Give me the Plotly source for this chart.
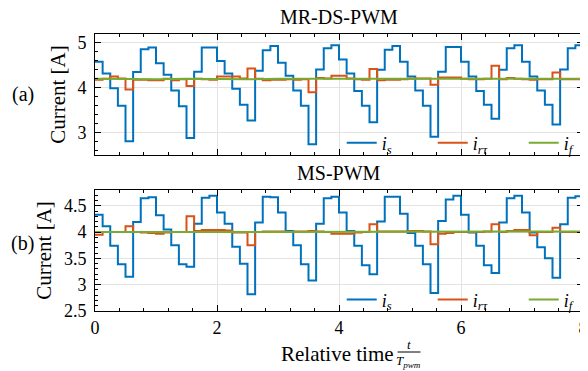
import plotly.graph_objects as go

# time grid: 8 samples per PWM period, 8 periods
t_steps = [k * 0.125 for k in range(65)]
t_filter = [k * 0.5 for k in range(17)]

# ---------- (a) MR-DS-PWM ----------
is_a = [4.58, 4.32, 3.99, 3.60, 2.81, 4.35, 4.86, 4.90,
        4.55, 4.29, 3.94, 3.59, 2.88, 4.36, 4.90, 4.90,
        4.60, 4.32, 3.98, 3.62, 3.27, 4.38, 4.84, 4.93,
        4.56, 4.27, 3.94, 3.60, 2.74, 4.41, 4.88, 4.95,
        4.63, 4.32, 3.93, 3.60, 3.23, 4.40, 4.85, 4.93,
        4.58, 4.25, 3.94, 3.60, 2.91, 4.36, 4.91, 4.91,
        4.58, 4.25, 3.93, 3.62, 3.31, 4.40, 4.88, 4.95,
        4.58, 4.25, 3.94, 3.62, 3.18, 4.41, 4.88, 4.95, 4.95]
irt_a = [4.18, 4.20, 4.25, 4.21, 3.96, 4.18, 4.18, 4.17,
         4.17, 4.20, 4.17, 4.19, 4.04, 4.20, 4.19, 4.18,
         4.25, 4.25, 4.25, 4.21, 4.43, 4.20, 4.17, 4.18,
         4.18, 4.19, 4.18, 4.19, 3.90, 4.22, 4.21, 4.27,
         4.27, 4.21, 4.19, 4.18, 4.42, 4.17, 4.18, 4.18,
         4.19, 4.20, 4.21, 4.21, 4.07, 4.23, 4.23, 4.23,
         4.20, 4.19, 4.19, 4.20, 4.49, 4.19, 4.22, 4.20,
         4.19, 4.18, 4.19, 4.19, 4.34, 4.19, 4.19, 4.19, 4.19]
if_a = [4.20, 4.19, 4.19, 4.20, 4.19, 4.19, 4.20, 4.20, 4.19,
        4.20, 4.20, 4.19, 4.20, 4.20, 4.19, 4.20, 4.20]

# ---------- (b) MS-PWM ----------
is_b = [4.33, 4.11, 3.74, 3.39, 3.15, 4.19, 4.64, 4.66,
        4.32, 4.05, 3.75, 3.39, 3.34, 4.16, 4.65, 4.69,
        4.37, 4.16, 3.72, 3.40, 2.82, 4.18, 4.67, 4.66,
        4.37, 4.02, 3.75, 3.39, 3.08, 4.16, 4.64, 4.67,
        4.37, 4.02, 3.74, 3.37, 3.20, 4.20, 4.67, 4.67,
        4.35, 3.98, 3.74, 3.39, 2.84, 4.21, 4.62, 4.69,
        4.33, 3.99, 3.74, 3.37, 3.22, 4.18, 4.64, 4.69,
        4.37, 3.99, 3.71, 3.50, 3.13, 4.15, 4.65, 4.68, 4.68]
irt_b = [3.95, 4.00, 4.00, 4.00, 4.11, 4.00, 3.99, 3.98,
         3.97, 3.99, 4.00, 4.00, 4.30, 4.02, 4.04, 4.04,
         4.04, 4.03, 3.99, 3.99, 3.75, 4.00, 4.01, 4.01,
         4.01, 4.00, 4.01, 4.01, 4.02, 4.01, 4.00, 3.97,
         3.97, 3.97, 3.99, 4.00, 4.15, 4.01, 4.01, 4.01,
         4.01, 4.02, 4.02, 4.01, 3.77, 3.97, 3.98, 4.00,
         4.00, 4.00, 4.00, 4.01, 4.15, 4.00, 4.02, 4.04,
         4.04, 3.94, 4.00, 4.00, 4.08, 4.00, 4.00, 4.00, 4.00]
if_b = [4.00, 4.00, 4.00, 4.01, 4.00, 4.00, 4.01, 4.01, 4.00,
        4.01, 4.00, 4.00, 4.01, 4.01, 4.00, 4.00, 4.01]

x_ticks = [0, 2, 4, 6, 8]
y_ticks_a = [3, 4, 5]
y_ticks_b = [2.5, 3, 3.5, 4, 4.5]

names = ["<i>i</i><sub><i>s</i></sub>",
         "<i>i</i><sub><i>r\u03c4</i></sub>",
         "<i>i</i><sub><i>f</i></sub>"]
colors = ["#0072BD", "#D95319", "#77AC30"]
FONT = "Liberation Serif"

fig = go.Figure()
for (xa, ya, leg, data) in [("x", "y", "legend", (is_a, irt_a, if_a)),
                            ("x2", "y2", "legend2", (is_b, irt_b, if_b))]:
    fig.add_trace(go.Scatter(x=t_steps, y=data[0], mode="lines", line_shape="hv",
                             line=dict(color=colors[0], width=2), name=names[0],
                             xaxis=xa, yaxis=ya, legend=leg))
    fig.add_trace(go.Scatter(x=t_steps, y=data[1], mode="lines", line_shape="hv",
                             line=dict(color=colors[1], width=2), name=names[1],
                             xaxis=xa, yaxis=ya, legend=leg))
    fig.add_trace(go.Scatter(x=t_filter, y=data[2], mode="lines",
                             line=dict(color=colors[2], width=2), name=names[2],
                             xaxis=xa, yaxis=ya, legend=leg))

axis_common = dict(showline=True, linecolor="black", linewidth=1, mirror="allticks",
                   ticks="inside", ticklen=6, tickcolor="black", tickwidth=1,
                   showgrid=True, gridcolor="#e3e3e3", gridwidth=1, zeroline=False,
                   automargin=False,
                   tickfont=dict(family=FONT, size=18, color="black"))

legend_common = dict(orientation="h", xanchor="right", yanchor="middle",
                     bgcolor="rgba(0,0,0,0)", font=dict(family=FONT, size=18),
                     entrywidth=46, entrywidthmode="pixels", itemwidth=30,
                     tracegroupgap=0)

ytitle_font = dict(family=FONT, size=21)

# the page body adds an 8 px offset, so the figure is 8 px smaller on top/left
fig.update_layout(
    width=580, height=363,
    margin=dict(l=87, r=5, t=26, b=60, autoexpand=False),
    paper_bgcolor="white", plot_bgcolor="white",
    font=dict(family=FONT, color="black"),
    xaxis=dict(domain=[0, 1], range=[0, 8], anchor="y", tickvals=x_ticks,
               showticklabels=False,
               minor=dict(dtick=0.4, ticks="inside", ticklen=3, tickcolor="black", showgrid=False),
               **axis_common),
    yaxis=dict(domain=[0.563, 1], range=[2.5, 5.2], anchor="x", tickvals=y_ticks_a,
               ticklabelstandoff=4,
               minor=dict(dtick=0.2, ticks="inside", ticklen=3, tickcolor="black", showgrid=False),
               title=dict(text="Current [A]", font=ytitle_font, standoff=6),
               **axis_common),
    xaxis2=dict(domain=[0, 1], range=[0, 8], anchor="y2", tickvals=x_ticks,
                minor=dict(dtick=0.4, ticks="inside", ticklen=3, tickcolor="black", showgrid=False),
                **axis_common),
    yaxis2=dict(domain=[0, 0.437], range=[2.5, 4.8], anchor="x2", tickvals=y_ticks_b,
                ticklabelstandoff=4,
                minor=dict(dtick=0.1, ticks="inside", ticklen=3, tickcolor="black", showgrid=False),
                title=dict(text="Current [A]", font=ytitle_font, standoff=6),
                **axis_common),
    legend=dict(x=1.065, y=0.606, **legend_common),
    legend2=dict(x=1.065, y=0.04, **legend_common),
)

annotations = [
    dict(text="MR-DS-PWM", xref="paper", yref="paper", x=0.5, y=1.0, yshift=17,
         showarrow=False, font=dict(family=FONT, size=20), xanchor="center", yanchor="middle"),
    dict(text="MS-PWM", xref="paper", yref="paper", x=0.5, y=0.437, yshift=17,
         showarrow=False, font=dict(family=FONT, size=20), xanchor="center", yanchor="middle"),
    dict(text="(a)", xref="paper", yref="paper", x=-0.148, y=0.78,
         showarrow=False, font=dict(family=FONT, size=20), xanchor="center", yanchor="middle"),
    dict(text="(b)", xref="paper", yref="paper", x=-0.148, y=0.245,
         showarrow=False, font=dict(family=FONT, size=20), xanchor="center", yanchor="middle"),
    dict(text="Relative time", xref="paper", yref="paper", x=0.617, y=0, yshift=-43,
         showarrow=False, font=dict(family=FONT, size=21), xanchor="right", yanchor="middle"),
    dict(text="<i>t</i>", xref="paper", yref="paper", x=0.643, y=0, yshift=-33,
         showarrow=False, font=dict(family=FONT, size=13), xanchor="center", yanchor="middle"),
    dict(text="<i>T</i><sub><i>pwm</i></sub>", xref="paper", yref="paper", x=0.643, y=0, yshift=-50,
         showarrow=False, font=dict(family=FONT, size=13), xanchor="center", yanchor="middle"),
]
fig.update_layout(annotations=annotations)
fig.add_shape(type="line", xref="paper", yref="paper", x0=0.620, x1=0.667,
              ysizemode="pixel", yanchor=0, y0=-41, y1=-41,
              line=dict(color="black", width=1))

fig.write_html("out.html")
